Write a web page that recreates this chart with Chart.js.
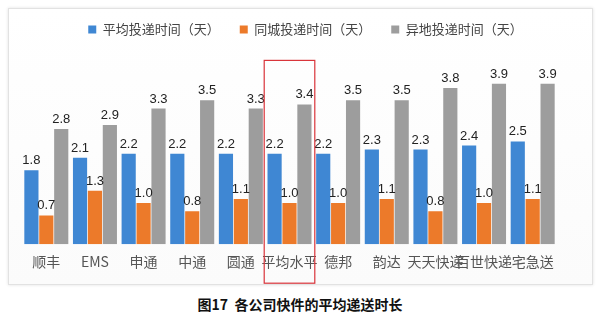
<!DOCTYPE html>
<html>
<head>
<meta charset="utf-8">
<script src="https://cdn.jsdelivr.net/npm/chart.js@4/dist/chart.umd.min.js"></script>
<style>
    body { margin: 0; background: #fff; width: 600px; height: 323px; position: relative; overflow: hidden; }
    #box {
        position: absolute; left: 8px; top: 8px; width: 583px; height: 275px;
        border: 1px solid #e2e2e2; box-shadow: 0 0 3px rgba(0,0,0,0.12);
        background: linear-gradient(#fff, #fbfbfb);
    }
    #title {
        position: absolute; left: 0; width: 600px; top: 294px; text-align: center;
        font: bold 14px "Noto Sans CJK SC", sans-serif; color: #111;
    }
</style>
</head>
<body>
<div id="box"><canvas id="deliveryChart" width="583" height="275"></canvas></div>
<div id="title">图17&nbsp; 各公司快件的平均递送时长</div>
<script>
    // Company names and delivery times (days)
    const companies = ['顺丰', 'EMS', '申通', '中通', '圆通', '平均水平', '德邦', '韵达', '天天快递', '百世快递', '宅急送'];
    const avgDays = [1.8, 2.1, 2.2, 2.2, 2.2, 2.2, 2.2, 2.3, 2.3, 2.4, 2.5];
    const sameCityDays = [0.7, 1.3, 1.0, 0.8, 1.1, 1.0, 1.0, 1.1, 0.8, 1.0, 1.1];
    const otherCityDays = [2.8, 2.9, 3.3, 3.5, 3.3, 3.4, 3.5, 3.5, 3.8, 3.9, 3.9];
    const highlightIndex = 5;

    // Draw the value above each bar
    const valueLabels = {
        id: 'valueLabels',
        afterDatasetsDraw(chart) {
            const ctx = chart.ctx;
            ctx.save();
            ctx.font = '13px "Liberation Sans", Arial, sans-serif';
            ctx.fillStyle = '#222';
            ctx.textAlign = 'center';
            ctx.textBaseline = 'bottom';
            chart.data.datasets.forEach((ds, i) => {
                chart.getDatasetMeta(i).data.forEach((bar, j) => {
                    ctx.fillText(ds.data[j].toFixed(1), bar.x, bar.y - 3);
                });
            });
            ctx.restore();
        }
    };

    // Red frame around the average column
    const highlightBox = {
        id: 'highlightBox',
        afterLayout(chart) {
            // legend sits centred on the whole box, not on the shifted plot
            chart.legend.left += 16;
            chart.legend.right += 16;
        },
        afterDraw(chart) {
            const x = chart.scales.x;
            const y = chart.scales.y;
            const step = x.getPixelForValue(1) - x.getPixelForValue(0);
            const cx = x.getPixelForValue(highlightIndex);
            const ctx = chart.ctx;
            ctx.save();
            ctx.strokeStyle = '#d9343a';
            ctx.lineWidth = 1.2;
            const top = y.getPixelForValue(4.47);
            const bottom = chart.chartArea.bottom + 39;
            ctx.strokeRect(cx - step * 0.52, top, step * 1.04, bottom - top);
            ctx.restore();
        }
    };

    new Chart(document.getElementById('deliveryChart').getContext('2d'), {
        type: 'bar',
        data: {
            labels: companies,
            datasets: [{
                label: '平均投递时间（天）',
                data: avgDays,
                backgroundColor: '#3f87d3'
            }, {
                label: '同城投递时间（天）',
                data: sameCityDays,
                backgroundColor: '#ec7a2a'
            }, {
                label: '异地投递时间（天）',
                data: otherCityDays,
                backgroundColor: '#9d9d9d'
            }]
        },
        options: {
            responsive: false,
            animation: false,
            categoryPercentage: 0.92,
            barPercentage: 0.95,
            layout: { padding: { left: 13, right: 35, top: -6, bottom: 13 } },
            scales: {
                x: {
                    grid: { display: false },
                    border: { display: false },
                    ticks: {
                        color: '#555',
                        padding: 1,
                        maxRotation: 0,
                        autoSkip: false,
                        font: { family: '"Noto Sans CJK SC", sans-serif', size: 14 }
                    }
                },
                y: {
                    display: false,
                    min: 0,
                    max: 4.82
                }
            },
            plugins: {
                legend: {
                    labels: {
                        boxWidth: 8,
                        boxHeight: 8,
                        padding: 20,
                        color: '#444',
                        font: { family: '"Noto Sans CJK SC", sans-serif', size: 13 }
                    }
                },
                tooltip: { enabled: false }
            }
        },
        plugins: [valueLabels, highlightBox]
    });
</script>
</body>
</html>
